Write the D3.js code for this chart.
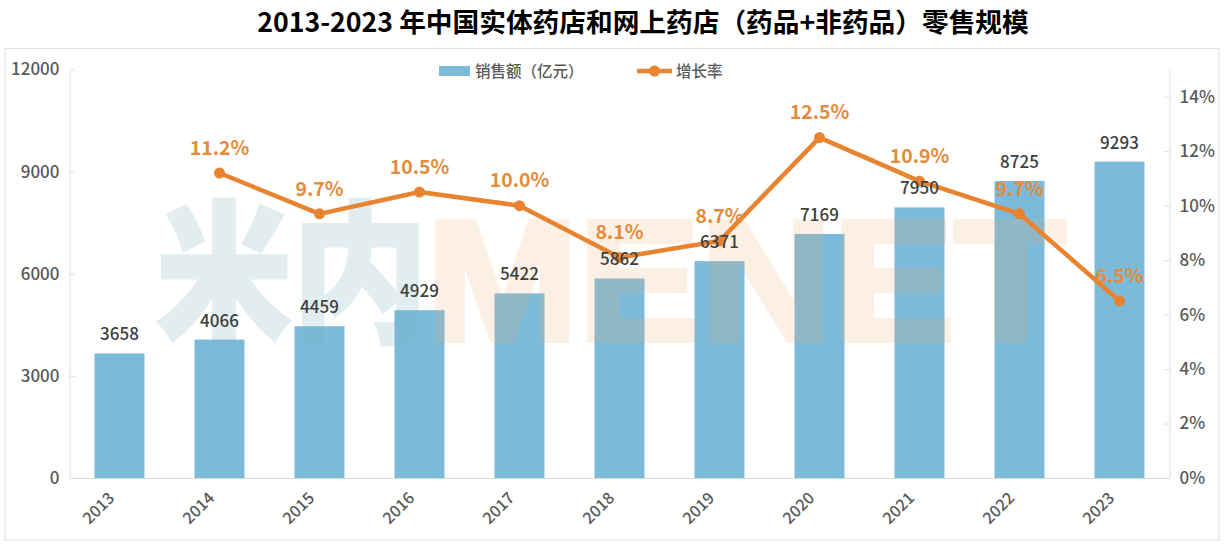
<!DOCTYPE html>
<html><head><meta charset="utf-8">
<script src="https://cdn.jsdelivr.net/npm/d3@7/dist/d3.min.js"></script>
<style>
html,body{margin:0;padding:0;background:#fff;overflow:hidden}
svg{display:block}
text{font-family:"Noto Sans CJK SC","Noto Sans",sans-serif}
</style></head><body>
<svg id="c" width="1224" height="546"></svg>
<script>
const years=["2013","2014","2015","2016","2017","2018","2019","2020","2021","2022","2023"];
const sales=[3658,4066,4459,4929,5422,5862,6371,7169,7950,8725,9293];
const growthYears=["2014","2015","2016","2017","2018","2019","2020","2021","2022","2023"];
const growth=[11.2,9.7,10.5,10.0,8.1,8.7,12.5,10.9,9.7,6.5];
const leftTicks=[0,3000,6000,9000,12000];
const rightTicks=[0,2,4,6,8,10,12,14];
const titleText="2013-2023 年中国实体药店和网上药店（药品+非药品）零售规模";
const legendBar="销售额（亿元）";
const legendLine="增长率";

const BAR="#7bbbd9",ORANGE="#e8842f",AXIS="#dcdcdc",TXT="#595959",LBL="#404040",PCT="#e58b3c";
const L=69.5,R=1169.5,T=69.5,B=478;
const svg=d3.select("#c");
const x=d3.scaleBand().domain(years).range([L,R]).paddingInner(0.5).paddingOuter(0.25);
const cx=d=>x(d)+x.bandwidth()/2;
const y=d3.scaleLinear().domain([0,12000]).range([B,T]);
const y2=d3.scaleLinear().domain([0,15]).range([B,T]);

svg.append("rect").attr("x",5).attr("y",48.5).attr("width",1214).attr("height",491.5)
  .attr("fill","#fff").attr("stroke","#dddddd").attr("stroke-width",1);
svg.append("text").attr("x",643).attr("y",32).attr("text-anchor","middle")
  .attr("font-size",26.7).attr("font-weight",700).attr("fill","#000").text(titleText);

// bars
svg.append("g").selectAll("rect").data(sales).join("rect")
  .attr("x",(d,i)=>x(years[i])).attr("width",x.bandwidth())
  .attr("y",d=>y(d)).attr("height",d=>B-y(d)).attr("fill",BAR);

// watermark
const wm=svg.append("g").style("pointer-events","none");
wm.append("text").attr("x",156).attr("y",330).attr("textLength",272).attr("lengthAdjust","spacingAndGlyphs")
  .attr("font-size",152).attr("font-weight",900).attr("fill","#7fb0c0").attr("stroke","#7fb0c0").attr("stroke-width",3)
  .attr("opacity",.22).text("米内");
wm.append("text").attr("x",426).attr("y",340).attr("textLength",640).attr("lengthAdjust","spacingAndGlyphs")
  .style("font-family","'Liberation Sans'").attr("font-size",170).attr("font-weight",700)
  .attr("fill","#f2a666").attr("stroke","#f2a666").attr("stroke-width",6).attr("opacity",.17).text("MENET");

function styleAxis(g){
  g.selectAll(".domain,.tick line").attr("stroke",AXIS);
  g.selectAll("text").attr("fill",TXT).attr("font-size",17).attr("font-weight",500);
}
svg.append("g").attr("transform",`translate(${L},0)`)
  .call(d3.axisLeft(y).tickValues(leftTicks).tickSizeInner(-5).tickSizeOuter(0).tickPadding(10).tickFormat(d3.format("d")))
  .call(styleAxis);
svg.append("g").attr("transform",`translate(${R},0)`)
  .call(d3.axisRight(y2).tickValues(rightTicks).tickSizeInner(-5).tickSizeOuter(0).tickPadding(10).tickFormat(d=>d+"%"))
  .call(styleAxis);
svg.append("g").attr("transform",`translate(0,${B})`)
  .call(d3.axisBottom(x).tickSize(0).tickPadding(0))
  .call(styleAxis)
  .call(g=>g.selectAll("text").attr("text-anchor","middle").attr("dy",0).attr("y",0).attr("font-size",16)
     .attr("transform","translate(-17,34) rotate(-45)"));

// line
const gx=i=>cx(growthYears[i]);
svg.append("path").datum(growth)
  .attr("d",d3.line().x((d,i)=>gx(i)).y(d=>y2(d)))
  .attr("fill","none").attr("stroke",ORANGE).attr("stroke-width",4.5).attr("stroke-linejoin","round");
svg.append("g").selectAll("circle").data(growth).join("circle")
  .attr("cx",(d,i)=>gx(i)).attr("cy",d=>y2(d)).attr("r",5.5).attr("fill",ORANGE);

// labels
svg.append("g").selectAll("text").data(sales).join("text")
  .attr("x",(d,i)=>cx(years[i])).attr("y",d=>y(d)-19).attr("dy",".35em")
  .attr("text-anchor","middle").attr("font-size",17).attr("font-weight",500)
  .attr("fill",LBL).text(d=>d);
svg.append("g").selectAll("text").data(growth).join("text")
  .attr("x",(d,i)=>gx(i)).attr("y",d=>y2(d)-25).attr("dy",".35em")
  .attr("text-anchor","middle").attr("font-size",19.5).attr("font-weight",700)
  .attr("fill",PCT).text(d=>d.toFixed(1)+"%");

// legend
const lg=svg.append("g");
lg.append("rect").attr("x",439).attr("y",66).attr("width",31).attr("height",10).attr("fill",BAR);
lg.append("text").attr("x",475).attr("y",77).attr("font-size",15.5).attr("fill",TXT).attr("font-weight",500).text(legendBar);
lg.append("line").attr("x1",637).attr("x2",672).attr("y1",71).attr("y2",71).attr("stroke",ORANGE).attr("stroke-width",4.5);
lg.append("circle").attr("cx",654.5).attr("cy",71).attr("r",5.5).attr("fill",ORANGE);
lg.append("text").attr("x",676).attr("y",77).attr("font-size",15.5).attr("fill",TXT).attr("font-weight",500).text(legendLine);
</script></body></html>
